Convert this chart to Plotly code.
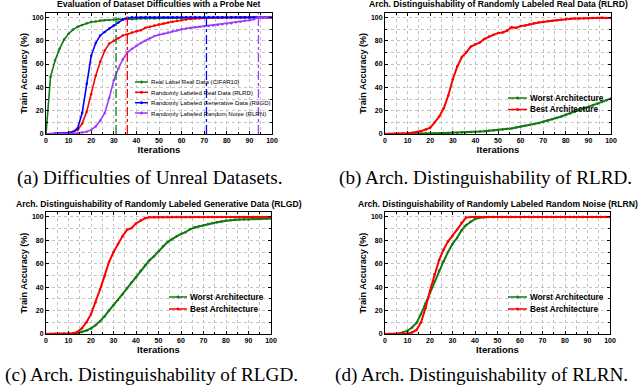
import plotly.graph_objects as go

# ---------------- data ----------------
iters = list(range(0, 101, 2))

# (a) probe net on the four datasets
a_real = [0, 49, 63, 73, 81,
          86, 89.5, 92, 93.5, 95,
          96, 96.5, 97.3, 97.6, 97.8,
          98.1, 98.3, 98.5, 98.7, 98.4,
          98.9, 99, 99.1, 99.2, 99.1,
          99.3, 99.4, 99.4, 99.5, 99.5,
          99.6, 99.6, 99.6, 99.7, 99.7,
          99.7, 99.8, 99.8, 99.8, 99.8,
          99.9, 99.9, 99.9, 99.9, 99.9,
          100, 100, 100, 100, 100,
          100]
a_rlrd = [0, 0.1, 0.3, 0.5, 0.8,
          1.2, 2, 3.5, 9, 19,
          34, 50, 62, 71.5, 77.5,
          80, 82, 84.5, 85.5, 87,
          88, 89, 91, 92, 93,
          94, 94.8, 95.5, 96.2, 97,
          97.6, 98.2, 98.6, 99, 99.3,
          99.5, 99.6, 99.7, 99.8, 99.8,
          99.9, 100, 100, 100, 100,
          100, 100, 100, 100, 100,
          100]
a_rlgd = [0, 0.1, 0.2, 0.4, 0.7,
          1, 1.8, 5, 18, 43,
          67, 78, 84.5, 87.5, 90.5,
          93, 95.5, 98, 99.7, 100,
          100, 100, 100, 100, 100,
          100, 100, 100, 100, 100,
          100, 100, 100, 100, 100,
          100, 100, 100, 100, 100,
          100, 100, 100, 100, 100,
          100, 100, 100, 100, 100,
          100]
a_rlrn = [0, 0, 0.1, 0.2, 0.3,
          0.4, 0.6, 0.9, 1.3, 2,
          3.5, 6.5, 11.5, 18, 31,
          46, 56, 64, 70, 73,
          75.5, 78, 80, 82, 84,
          85, 86, 87, 88, 89,
          90, 90.5, 91, 91.5, 92,
          92.3, 92.7, 93, 93.5, 94,
          94.5, 95, 95.8, 96.3, 97,
          97.5, 98.3, 100, 100, 100,
          100]
a_names = ["Real Label Real Data (CIFAR10)",
           "Randomly Labeled Real Data (RLRD)",
           "Randomly Labeled Generative Data (RLGD)",
           "Randomly Labeled Random Noise (RLRN)"]
a_converge = [31, 36, 71, 94]

# (b) RLRD
b_worst = [0, 0, 0, 0.1, 0.1,
           0.2, 0.2, 0.3, 0.3, 0.4,
           0.5, 0.6, 0.7, 0.8, 0.9,
           1, 1.1, 1.3, 1.5, 1.7,
           1.9, 2.1, 2.4, 2.7, 3,
           3.4, 3.8, 4.3, 4.8, 5.5,
           6.2, 7, 7.7, 8.5, 9.5,
           10.5, 11.5, 12.6, 13.8, 15,
           16.5, 17.8, 19, 20.3, 21.7,
           23, 24.5, 26, 27.5, 29,
           30.5]
b_best = [0, 0, 0.1, 0.2, 0.4,
          0.6, 1, 1.6, 2.5, 3.8,
          5.5, 10, 15, 22, 33,
          47, 58, 66, 70, 75,
          77, 78.5, 81.5, 83.5, 85,
          86.5, 87, 88.5, 91.5, 91,
          92.5, 93, 94, 95, 95.5,
          96, 96.8, 97, 97.5, 98,
          98.5, 98.8, 99, 99, 99.2,
          99.3, 99.5, 99.5, 99.6, 99.5,
          99.5]

# (c) RLGD
c_worst = [0, 0, 0, 0.1, 0.2,
           0.3, 0.5, 0.8, 1.7, 3,
           4.8, 7.5, 11, 15, 20,
           24.5, 29, 34, 39, 44,
           48.5, 54, 58.5, 63, 66.5,
           70.5, 75, 78.5, 81, 83.5,
           85.5, 87, 89.5, 91, 92,
           93, 94, 94.8, 95.5, 96.2,
           97, 97.3, 97.6, 97.8, 98,
           97.8, 98.2, 98.4, 98.5, 98.5,
           98.6]
c_best = [0, 0, 0, 0.1, 0.2,
          0.4, 0.7, 1.8, 5, 10,
          17, 27, 38, 49.5, 61.5,
          70, 77, 83.5, 89, 90.5,
          94.5, 97, 99, 99.8, 99.8,
          99.8, 99.8, 99.9, 99.9, 99.9,
          99.9, 99.9, 100, 100, 100,
          100, 100, 100, 100, 100,
          100, 100, 100, 100, 100,
          100, 100, 100, 100, 100,
          100]

# (d) RLRN
d_worst = [0, 0, 0.1, 0.3, 1.4,
           2.8, 5.5, 9.5, 17, 26,
           35, 45, 54, 62, 70,
           77, 82, 88.5, 93, 96,
           98.3, 99.3, 99.8, 100, 100,
           100, 100, 100, 100, 100,
           100, 100, 100, 100, 100,
           100, 100, 100, 100, 100,
           100, 100, 100, 100, 100,
           100, 100, 100, 100, 100,
           100]
d_best = [0, 0, 0, 0.1, 0.2,
          0.5, 1.3, 3.5, 10, 22,
          37, 51, 63, 72, 79,
          84, 89, 95, 99.5, 100,
          100, 100, 100, 100, 100,
          100, 100, 100, 100, 100,
          100, 100, 100, 100, 100,
          100, 100, 100, 100, 100,
          100, 100, 100, 100, 100,
          100, 100, 100, 100, 100,
          100]
arch_names = ["Worst Architecture", "Best Architecture"]

titles = ["Evaluation of Dataset Difficulties with a Probe Net",
          "Arch. Distinguishability of Randomly Labeled Real Data (RLRD)",
          "Arch. Distinguishability of Randomly Labeled Generative Data (RLGD)",
          "Arch. Distinguishability of Randomly Labeled Random Noise (RLRN)"]
captions = ["(a) Difficulties of Unreal Datasets.",
            "(b) Arch. Distinguishability of RLRD.",
            "(c) Arch. Distinguishability of RLGD.",
            "(d) Arch. Distinguishability of RLRN."]

# ---------------- styling ----------------
W, H = 640, 389
GREEN, RED, BLUE, PURPLE = "#127a12", "#ff0000", "#0000ff", "#9a3cff"
SANS = "Liberation Sans"
SERIF = "Liberation Serif"


def px(x):
    return x / W


def py(y):
    return 1 - y / H


# pixel boxes of the four plot areas: left, right, top, bottom
boxes = [(46, 272, 12.7, 134), (385, 611, 12.7, 134),
         (46, 271, 212.3, 334), (385, 610, 212.3, 334)]

fig = go.Figure()


def add_curve(k, y, name, color, width=1.8):
    sfx = "" if k == 0 else str(k + 1)
    fig.add_trace(go.Scatter(
        x=iters, y=y, name=name, mode="lines+markers",
        line=dict(color=color, width=width),
        marker=dict(color=color, size=2.5),
        xaxis="x" + sfx, yaxis="y" + sfx, showlegend=False))


a_series = [a_real, a_rlrd, a_rlgd, a_rlrn]
a_colors = [GREEN, RED, BLUE, PURPLE]
for s, n, c in zip(a_series, a_names, a_colors):
    add_curve(0, s, n, c, width=1.6)

for k, (w_, b_) in enumerate([(b_worst, b_best), (c_worst, c_best), (d_worst, d_best)], start=1):
    add_curve(k, w_, arch_names[0], GREEN, width=2)
    add_curve(k, b_, arch_names[1], RED, width=2)

shapes = []
# convergence dash-dot lines in (a)
for v, c in zip(a_converge, a_colors):
    shapes.append(dict(type="line", xref="x", yref="y domain", x0=v, x1=v, y0=0, y1=1,
                       line=dict(color=c, width=1.3, dash="dashdot"), layer="above"))

annotations = []

grid = dict(showgrid=True, gridcolor="#c4c4c4", gridwidth=0.8, griddash="dot")
axis_common = dict(showline=True, linecolor="black", linewidth=1, mirror="ticks",
                   ticks="inside", ticklen=3, tickwidth=1, tickcolor="black",
                   zeroline=False, fixedrange=True, automargin=False,
                   tickfont=dict(family=SANS, size=7, color="black", weight="bold"),
                   **grid)

layout_axes = {}
for k, (l, r, t, b) in enumerate(boxes):
    sfx = "" if k == 0 else str(k + 1)
    layout_axes["xaxis" + sfx] = dict(
        domain=[px(l), px(r)], anchor="y" + sfx, range=[0, 100], tick0=0, dtick=10,
        minor=dict(dtick=5, ticks="inside", ticklen=2, tickcolor="black", **grid),
        title=dict(text="Iterations", standoff=1,
                   font=dict(family=SANS, size=9.5, color="black", weight="bold")),
        **axis_common)
    layout_axes["yaxis" + sfx] = dict(
        domain=[py(b), py(t)], anchor="x" + sfx, range=[0, 104], tick0=0, dtick=20,
        minor=dict(dtick=10, ticks="inside", ticklen=2, tickcolor="black", **grid),
        title=dict(text="Train Accuracy (%)", standoff=2,
                   font=dict(family=SANS, size=9, color="black", weight="bold")),
        **axis_common)
    # subplot title
    annotations.append(dict(text="<b>" + titles[k] + "</b>", xref="paper", yref="paper",
                            x=px((l + r) / 2), y=py(t - 8.5), xanchor="center", yanchor="middle",
                            showarrow=False, font=dict(family=SANS, size=8.6, color="black")))

# captions
cap_pos = [(150, 178), (485, 178), (151, 375), (481, 375)]
for txt, (cx, cy) in zip(captions, cap_pos):
    annotations.append(dict(text=txt, xref="paper", yref="paper", x=px(cx), y=py(cy),
                            xanchor="center", yanchor="middle", showarrow=False,
                            font=dict(family=SERIF, size=19.2, color="black")))


# manual legends
def legend(names, colors, x_line0, x_line1, x_text, ys, size, bold):
    for n, c, yy in zip(names, colors, ys):
        shapes.append(dict(type="line", xref="paper", yref="paper",
                           x0=px(x_line0), x1=px(x_line1), y0=py(yy), y1=py(yy),
                           line=dict(color=c, width=1.5)))
        xm = (x_line0 + x_line1) / 2
        shapes.append(dict(type="circle", xref="paper", yref="paper",
                           x0=px(xm - 1.2), x1=px(xm + 1.2), y0=py(yy + 1.2), y1=py(yy - 1.2),
                           fillcolor=c, line=dict(color=c, width=0.5)))
        annotations.append(dict(text=("<b>%s</b>" % n) if bold else n, xref="paper", yref="paper",
                                x=px(x_text), y=py(yy), xanchor="left", yanchor="middle",
                                showarrow=False,
                                font=dict(family=SANS, size=size, color="black")))


legend(a_names, a_colors, 135, 148, 149, [82, 92.3, 102.7, 113], 6.1, False)
legend(arch_names, [GREEN, RED], 508, 527, 528, [98, 109.5], 8.2, True)
legend(arch_names, [GREEN, RED], 169, 187, 188, [297, 309], 8.2, True)
legend(arch_names, [GREEN, RED], 508, 527, 528, [297, 309], 8.2, True)

fig.update_layout(width=W, height=H, margin=dict(l=0, r=0, t=0, b=0, autoexpand=False),
                  paper_bgcolor="white", plot_bgcolor="white",
                  shapes=shapes, annotations=annotations, showlegend=False,
                  **layout_axes)

fig.write_html("out.html", config={"displayModeBar": False},
               post_script="document.body.style.margin='0';document.body.style.overflow='hidden';")
